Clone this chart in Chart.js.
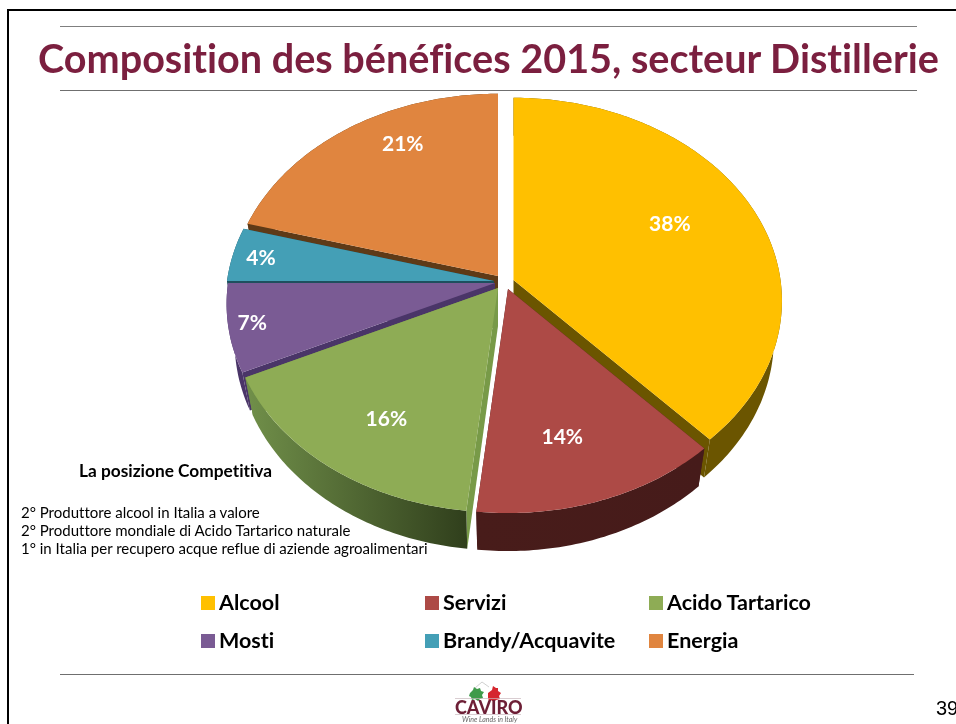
<!DOCTYPE html>
<html>
<head>
<meta charset="utf-8">
<script src="https://cdn.jsdelivr.net/npm/chart.js@4"></script>
<style>
html,body{margin:0;padding:0;background:#fff;overflow:hidden}
#page{position:relative;width:956px;height:724px;overflow:hidden;background:#fff}
canvas{position:absolute;left:0;top:0}
.t{position:absolute;white-space:nowrap;font-family:Lato,sans-serif;color:#000;font-variant-ligatures:none}
.r{position:absolute}
</style>
</head>
<body>
<div id="page">
  <canvas id="c" width="956" height="724"></canvas>
  <div class="r" style="left:7px;top:9px;width:2px;height:715px;background:#000"></div>
  <div class="r" style="left:7px;top:9px;width:949px;height:2px;background:#000"></div>
  <div class="r" style="left:60px;top:26px;width:857px;height:1px;background:#7f7f7f"></div>
  <div class="r" style="left:60px;top:90px;width:857px;height:1px;background:#6f6f6f"></div>
  <div class="r" style="left:60px;top:674px;width:854px;height:1px;background:#6f6f6f"></div>
  <div class="t" id="title" style="left:38px;top:34px;font-size:39.6px;font-weight:700;color:#7b1f3f"></div>
  <div class="t" id="head" style="left:79px;top:460px;font-size:17.3px;font-weight:700"></div>
  <div id="notes"></div>
  <div id="legend"></div>
  <svg class="r" style="left:452px;top:678px" width="74" height="46" viewBox="0 0 74 46">
    <path d="M18 15l3-3 1-3 3 2 3-1 1 3 3 1-2 3 1 3-3 1-2 2-3-2-3 1-1-3-2-1z" fill="#3f9b4a"/>
    <path d="M36 15l4-3 1-4 3 2 2 0 0 3 3 2-2 3 1 3-4 1-2 2-3-2-2 1-1-3z" fill="#d5262e"/>
    <path d="M30 4l-7 6M30 4l7 5" stroke="#bbb" stroke-width=".7" fill="none"/>
    <path d="M3 20.500h66M3 36.500h66" stroke="#c8b8bd" stroke-width=".7"/>
  </svg>
  <div class="t" id="brand" style="left:455px;top:696px;font-size:18px;font-weight:900;color:#6d1f36"></div>
  <div class="t" id="tag" style="left:462px;top:715px;font-size:7px;font-style:italic;color:#666"></div>
  <div class="t" id="pageNo" style="left:936px;top:697px;font-size:20px;font-family:'Liberation Sans',sans-serif"></div>
</div>
<script>
const titleText = "Composition des bénéfices 2015, secteur Distillerie";
const categories = ["Alcool", "Servizi", "Acido Tartarico", "Mosti", "Brandy/Acquavite", "Energia"];
const shares = [38.1, 13.6, 16.3, 7, 4.3, 20.7];
const headText = "La posizione Competitiva";
const noteLines = [
  "2° Produttore alcool in Italia a valore",
  "2° Produttore mondiale di Acido Tartarico naturale",
  "1° in Italia per recupero acque reflue di aziende agroalimentari"
];
const topColors  = ["#ffc000", "#ad4a46", "#8eac55", "#7a5b94", "#449fb6", "#e0853f"];
const wallStart  = ["#6b5500", "#481c1a", "#71904a", "#4a3568", "#1e4f5e", "#5e3a17"];
const wallEnd    = ["#6b5500", "#461b1a", "#303f1c", "#4a3568", "#1e4f5e", "#5e3a17"];
const cutColors  = ["#6b5500", "#481c1a", "#789a48", "#4a3568", "#1e4f5e", "#5e3a17"];
/* explode shift of each slice from the pie centre, px */
const sliceShift = [[10.5,-2],[5,7],[-5,6],[-8,1],[-9,-1],[-5,-6]];
const labelRadius = [.64,.68,.72,.92,.88,.75];
const labelNudge = [[1,-10],[-7,9],[7,6],[2,-1],[-3,1],[19,-19]];
const paintOrder = [5,4,3,2,0,1];
const legendCols = [201,425,649], legendRows = [603,641];
/* perspective of the tilted disc, relative to the library's outer radius */
const XS = 267/180, YS = 201/180, PERSP = .103, DEPTH = 38, SHRINK = .03;

function project(el, i, a, r, low){
  const u = Math.cos(a)*r, v = Math.sin(a)*r, d = 1 - PERSP*v;
  const s = low ? 1 - SHRINK : 1;
  return [
    el.x + sliceShift[i][0] + XS*el.outerRadius*u/d*s,
    el.y + sliceShift[i][1] + YS*el.outerRadius*v/d + (low ? DEPTH : 0)
  ];
}
function rim(el, i, low){
  const pts = [], n = Math.max(4, Math.ceil((el.endAngle-el.startAngle)/.015));
  for (let k=0;k<=n;k++) pts.push(project(el,i,el.startAngle+(el.endAngle-el.startAngle)*k/n,1,low));
  return pts;
}
function fillPoly(ctx, pts, style){
  ctx.beginPath();
  pts.forEach((p,k)=> k ? ctx.lineTo(p[0],p[1]) : ctx.moveTo(p[0],p[1]));
  ctx.closePath();
  ctx.fillStyle = style;
  ctx.fill();
}
function paintSlice(ctx, el, i){
  const top = rim(el,i,false), low = rim(el,i,true);
  const apex = project(el,i,0,0,false), apexLow = project(el,i,0,0,true);
  [[top[0],low[0]],[top[top.length-1],low[low.length-1]]].forEach(e=>{
    fillPoly(ctx,[apex,e[0],e[1],apexLow],cutColors[i]);
  });
  const xs = top.map(p=>p[0]);
  const g = ctx.createLinearGradient(Math.min(...xs),0,Math.max(...xs),0);
  g.addColorStop(0,wallStart[i]); g.addColorStop(1,wallEnd[i]);
  fillPoly(ctx, top.concat(low.slice().reverse()), g);
  fillPoly(ctx, [apex].concat(top), topColors[i]);
}
const pie3d = {
  id:"pie3d",
  beforeDatasetsDraw(chart){
    const meta = chart.getDatasetMeta(0), ctx = chart.ctx;
    paintOrder.forEach(i=>paintSlice(ctx, meta.data[i], i));
    return false;
  },
  afterDraw(chart){
    const meta = chart.getDatasetMeta(0), ctx = chart.ctx;
    ctx.save();
    ctx.font = "700 21px Lato, sans-serif";
    ctx.fillStyle = "#fff";
    ctx.textAlign = "center";
    ctx.textBaseline = "middle";
    meta.data.forEach((el,i)=>{
      const mid = (el.startAngle+el.endAngle)/2;
      const p = project(el,i,mid,labelRadius[i],false);
      ctx.fillText(Math.round(shares[i])+"%", p[0]+labelNudge[i][0], p[1]+labelNudge[i][1]);
    });
    ctx.restore();
  }
};
new Chart(document.getElementById("c"),{
  type:"pie",
  data:{labels:categories,datasets:[{data:shares,backgroundColor:topColors,borderWidth:0}]},
  options:{
    responsive:false,animation:false,
    layout:{padding:{left:323,right:273,top:102,bottom:262}},
    plugins:{legend:{display:false},tooltip:{enabled:false},title:{display:false}}
  },
  plugins:[pie3d]
});
const $ = id=>document.getElementById(id);
$("title").textContent = titleText;
$("head").textContent = headText;
$("brand").textContent = "CAVIRO";
$("tag").textContent = "Wine Lands in Italy";
$("pageNo").textContent = "39";
noteLines.forEach((s,k)=>{
  const d = document.createElement("div");
  d.className = "t"; d.textContent = s;
  d.style.cssText = `left:21px;top:${503+k*18}px;font-size:15px;line-height:18px`;
  $("notes").appendChild(d);
});
categories.forEach((s,k)=>{
  const x = legendCols[k%3], y = legendRows[Math.floor(k/3)];
  const sq = document.createElement("div");
  sq.className = "r";
  sq.style.cssText = `left:${x}px;top:${y-7}px;width:14px;height:14px;background:${topColors[k]}`;
  $("legend").appendChild(sq);
  const d = document.createElement("div");
  d.className = "t"; d.textContent = s;
  d.style.cssText = `left:${x+18}px;top:${y-13}px;font-size:21.5px;font-weight:700;line-height:24px`;
  $("legend").appendChild(d);
});
</script>
</body>
</html>
